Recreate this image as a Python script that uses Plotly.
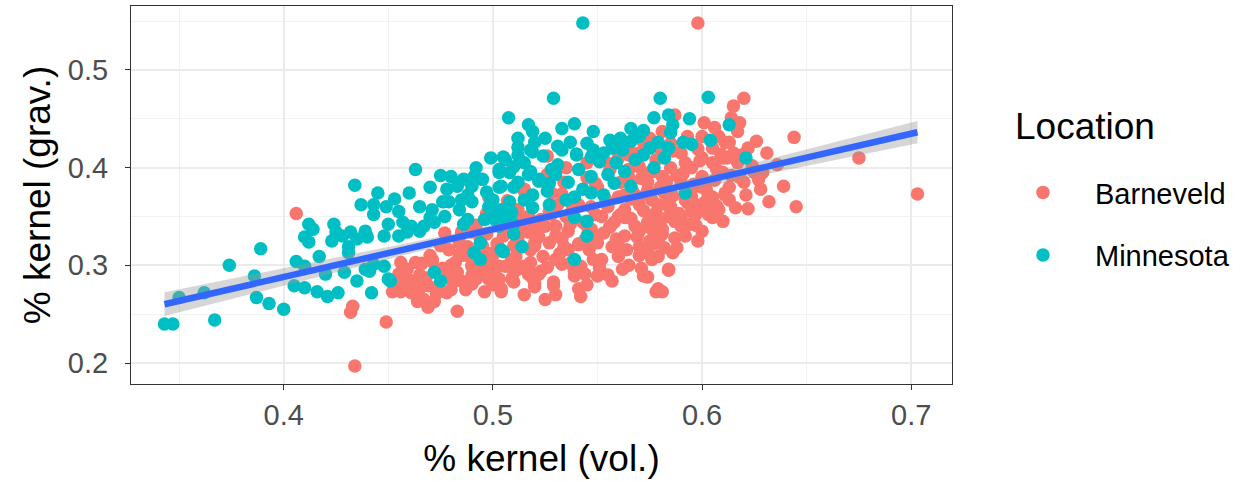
import numpy as np
import plotly.graph_objects as go

# ---------------- data ----------------
barneveld_x = [
    0.406, 0.432, 0.433, 0.449, 0.434,
    0.456, 0.463, 0.455, 0.452, 0.456, 0.465, 0.469, 0.464, 0.469, 0.472, 0.467, 0.471, 0.478, 0.483, 0.479,
    0.483, 0.484, 0.490, 0.496, 0.498, 0.504, 0.501, 0.510, 0.512, 0.520, 0.518, 0.490,
    0.515, 0.498, 0.512, 0.518, 0.484, 0.490, 0.488, 0.496, 0.499, 0.506, 0.510, 0.503, 0.493, 0.518, 0.520,
    0.517, 0.479, 0.471, 0.480, 0.474, 0.485, 0.461,
    0.526, 0.559, 0.572, 0.581, 0.565,
    0.598, 0.620, 0.615, 0.614, 0.601, 0.587, 0.644, 0.626, 0.631, 0.608, 0.613, 0.600, 0.615,
    0.645, 0.639, 0.632, 0.628, 0.622, 0.629, 0.618, 0.610, 0.605, 0.613, 0.613, 0.597, 0.581, 0.586, 0.584,
    0.581, 0.587, 0.607, 0.600, 0.601,
    0.675, 0.703,
    0.534, 0.528, 0.531, 0.515, 0.510, 0.517, 0.523, 0.530, 0.536, 0.515, 0.522, 0.527, 0.534, 0.518, 0.524,
    0.530, 0.536, 0.509, 0.503, 0.515, 0.522, 0.509, 0.529, 0.520, 0.539, 0.542, 0.548, 0.546, 0.550, 0.553,
    0.547, 0.552, 0.558, 0.563, 0.570, 0.576, 0.582, 0.560, 0.547, 0.563, 0.557, 0.560, 0.570, 0.574, 0.579,
    0.568, 0.574, 0.581, 0.578, 0.584, 0.572, 0.579, 0.552, 0.565, 0.570, 0.561, 0.574, 0.581, 0.560,
    0.574, 0.578, 0.584, 0.542, 0.541, 0.529, 0.504, 0.550, 0.539, 0.576, 0.517, 0.523,
    0.585, 0.590, 0.595, 0.590, 0.585, 0.595, 0.600, 0.605, 0.610, 0.590, 0.580, 0.575, 0.585, 0.600, 0.605,
    0.595, 0.605, 0.590, 0.600, 0.575, 0.570, 0.565, 0.570, 0.565, 0.580, 0.575, 0.560, 0.555, 0.550, 0.545,
    0.540, 0.545, 0.535, 0.530, 0.525, 0.520, 0.510, 0.505, 0.500, 0.495, 0.490, 0.485, 0.480, 0.475, 0.470,
    0.465, 0.460, 0.455, 0.480, 0.490, 0.500, 0.515, 0.525, 0.530, 0.545, 0.555, 0.565, 0.570, 0.560, 0.575,
    0.580, 0.570,
    0.617, 0.622, 0.610, 0.620, 0.545, 0.535, 0.598, 0.592, 0.617, 0.612, 0.605,
    0.588, 0.593, 0.597, 0.603, 0.608, 0.592, 0.583, 0.577, 0.566, 0.556, 0.544, 0.537, 0.527, 0.512, 0.507,
    0.497, 0.488, 0.477, 0.466, 0.459, 0.533, 0.541, 0.556, 0.563, 0.588, 0.596, 0.602, 0.611, 0.625, 0.636,
    0.502, 0.507, 0.511, 0.513, 0.519, 0.521, 0.526, 0.528, 0.532, 0.533, 0.537, 0.538, 0.541, 0.543, 0.544,
    0.548, 0.549, 0.551, 0.554, 0.556, 0.557, 0.559, 0.561, 0.562, 0.564, 0.566, 0.567, 0.569, 0.571, 0.572,
    0.574, 0.576, 0.577, 0.579, 0.580, 0.582, 0.583, 0.586, 0.587, 0.589, 0.591, 0.592, 0.594, 0.596, 0.597,
    0.599, 0.602, 0.603, 0.606, 0.607, 0.609, 0.611, 0.614, 0.616, 0.619, 0.621, 0.624, 0.627,
    0.458, 0.461, 0.466, 0.468, 0.473, 0.476, 0.481, 0.482, 0.487, 0.489, 0.492, 0.494, 0.497, 0.499, 0.492,
    0.497, 0.485,
    0.526, 0.533, 0.541, 0.549, 0.556, 0.563, 0.571, 0.578, 0.586, 0.593, 0.598, 0.606, 0.611, 0.618,
]
barneveld_y = [
    0.353, 0.252, 0.258, 0.242, 0.197,
    0.303, 0.303, 0.291, 0.273, 0.273, 0.276, 0.279, 0.263, 0.257, 0.263, 0.265, 0.304, 0.272, 0.253, 0.289,
    0.293, 0.311, 0.281, 0.273, 0.286, 0.273, 0.296, 0.283, 0.296, 0.278, 0.293, 0.299,
    0.378, 0.370, 0.357, 0.347, 0.323, 0.334, 0.319, 0.309, 0.299, 0.299, 0.293, 0.286, 0.293, 0.303, 0.323,
    0.334, 0.316, 0.306, 0.293, 0.279, 0.284, 0.272,
    0.412, 0.427, 0.426, 0.437, 0.413,
    0.548, 0.471, 0.463, 0.451, 0.446, 0.454, 0.431, 0.427, 0.415, 0.432, 0.426, 0.432, 0.415,
    0.360, 0.381, 0.365, 0.378, 0.358, 0.395, 0.390, 0.345, 0.349, 0.367, 0.380, 0.341, 0.332, 0.313, 0.295,
    0.273, 0.345, 0.398, 0.391, 0.364,
    0.410, 0.373,
    0.385, 0.374, 0.362, 0.376, 0.357, 0.350, 0.347, 0.340, 0.335, 0.335, 0.329, 0.323, 0.319, 0.316, 0.309,
    0.306, 0.316, 0.306, 0.299, 0.299, 0.291, 0.286, 0.283, 0.281, 0.289, 0.299, 0.306, 0.316, 0.323, 0.333,
    0.337, 0.350, 0.344, 0.357, 0.362, 0.367, 0.374, 0.370, 0.360, 0.330, 0.319, 0.309, 0.319, 0.313, 0.309,
    0.340, 0.344, 0.337, 0.354, 0.350, 0.289, 0.276, 0.306, 0.398, 0.401, 0.385, 0.385, 0.391, 0.410,
    0.288, 0.273, 0.296, 0.268, 0.276, 0.279, 0.276, 0.289, 0.294, 0.306, 0.291, 0.294,
    0.360, 0.350, 0.370, 0.385, 0.400, 0.400, 0.410, 0.420, 0.410, 0.415, 0.420, 0.430, 0.425, 0.380, 0.370,
    0.355, 0.355, 0.340, 0.335, 0.350, 0.370, 0.390, 0.415, 0.420, 0.380, 0.395, 0.350, 0.360, 0.380, 0.390,
    0.360, 0.340, 0.350, 0.330, 0.340, 0.320, 0.320, 0.330, 0.310, 0.320, 0.300, 0.310, 0.300, 0.320, 0.310,
    0.290, 0.285, 0.280, 0.275, 0.290, 0.280, 0.270, 0.265, 0.270, 0.280, 0.290, 0.300, 0.310, 0.320, 0.325,
    0.330, 0.335,
    0.405, 0.420, 0.395, 0.385, 0.405, 0.400, 0.325, 0.330, 0.437, 0.410, 0.405,
    0.392, 0.364, 0.352, 0.372, 0.357, 0.405, 0.362, 0.396, 0.368, 0.398, 0.326, 0.342, 0.355, 0.326, 0.366,
    0.332, 0.310, 0.333, 0.287, 0.296, 0.301, 0.322, 0.340, 0.349, 0.318, 0.380, 0.356, 0.372, 0.395, 0.403,
    0.322, 0.341, 0.309, 0.348, 0.287, 0.339, 0.298, 0.352, 0.312, 0.327, 0.302, 0.357, 0.321, 0.344, 0.291,
    0.331, 0.352, 0.297, 0.367, 0.339, 0.284, 0.327, 0.352, 0.296, 0.316, 0.348, 0.375, 0.329, 0.297, 0.356,
    0.377, 0.337, 0.322, 0.362, 0.344, 0.318, 0.386, 0.371, 0.328, 0.353, 0.394, 0.367, 0.342, 0.383, 0.362,
    0.407, 0.378, 0.352, 0.387, 0.361, 0.414, 0.374, 0.392, 0.359, 0.413, 0.372, 0.402, 0.388,
    0.296, 0.281, 0.302, 0.287, 0.271, 0.297, 0.283, 0.303, 0.275, 0.309, 0.286, 0.327, 0.296, 0.312, 0.341,
    0.353, 0.334,
    0.393, 0.373, 0.362, 0.384, 0.404, 0.372, 0.389, 0.408, 0.417, 0.432, 0.419, 0.441, 0.426, 0.446,
]

minnesota_x = [
    0.343, 0.347, 0.350, 0.362, 0.367, 0.374, 0.386, 0.389, 0.387, 0.393, 0.400,
    0.406, 0.405, 0.410, 0.416, 0.421, 0.426, 0.410, 0.417, 0.420, 0.412, 0.414, 0.410, 0.412, 0.424, 0.423,
    0.5075, 0.517, 0.519, 0.512, 0.520, 0.506, 0.503, 0.510, 0.518, 0.463, 0.434, 0.460, 0.445, 0.437, 0.443,
    0.449, 0.443, 0.425, 0.428, 0.432, 0.439, 0.431, 0.435, 0.440, 0.450, 0.448, 0.455, 0.457, 0.461, 0.459,
    0.465, 0.471, 0.476, 0.470, 0.472, 0.467, 0.477, 0.479, 0.480, 0.483, 0.486, 0.490, 0.495, 0.491, 0.485,
    0.490, 0.484, 0.488, 0.486, 0.499, 0.498, 0.501, 0.496, 0.504, 0.503, 0.510, 0.509, 0.515, 0.512, 0.503,
    0.518, 0.522, 0.519, 0.510, 0.514, 0.505, 0.494, 0.491, 0.494, 0.472, 0.475, 0.450, 0.442, 0.435, 0.439,
    0.429, 0.443, 0.448, 0.431, 0.441, 0.451,
    0.543, 0.529, 0.580, 0.539, 0.548, 0.566, 0.572, 0.577, 0.584, 0.531, 0.537, 0.556, 0.566, 0.579, 0.548,
    0.540, 0.553, 0.519,
    0.603, 0.594, 0.613, 0.586, 0.585, 0.604, 0.591, 0.595, 0.584, 0.621,
    0.505, 0.512, 0.531, 0.540, 0.547, 0.559, 0.541, 0.547, 0.555, 0.572, 0.577, 0.582, 0.503, 0.508, 0.504,
    0.510, 0.517, 0.522, 0.526, 0.530, 0.536, 0.539, 0.543, 0.547, 0.553, 0.566, 0.527, 0.535, 0.539, 0.545,
    0.545, 0.504, 0.539, 0.501, 0.506, 0.500,
    0.592, 0.562, 0.568, 0.575, 0.563, 0.558,
    0.515, 0.524, 0.528, 0.533, 0.545, 0.551, 0.557, 0.561, 0.570, 0.527, 0.519, 0.508, 0.497, 0.488, 0.478,
    0.465, 0.455, 0.453, 0.470, 0.475, 0.492, 0.499, 0.512, 0.525, 0.533,
]
minnesota_y = [
    0.240, 0.240, 0.267, 0.272, 0.244, 0.300, 0.289, 0.317, 0.267, 0.261, 0.255,
    0.304, 0.279, 0.277, 0.273, 0.268, 0.272, 0.299, 0.309, 0.291, 0.342, 0.337, 0.329, 0.324, 0.342, 0.325,
    0.451, 0.444, 0.437, 0.421, 0.426, 0.408, 0.398, 0.401, 0.418, 0.398, 0.382, 0.374, 0.374, 0.362, 0.362,
    0.360, 0.352, 0.334, 0.330, 0.334, 0.335, 0.319, 0.327, 0.329, 0.342, 0.330, 0.330, 0.344, 0.340, 0.334,
    0.335, 0.357, 0.365, 0.349, 0.344, 0.340, 0.350, 0.365, 0.391, 0.381, 0.388, 0.381, 0.388, 0.391, 0.367,
    0.365, 0.357, 0.347, 0.342, 0.367, 0.360, 0.354, 0.347, 0.357, 0.340, 0.342, 0.354, 0.367, 0.385, 0.380,
    0.396, 0.388, 0.359, 0.332, 0.319, 0.314, 0.323, 0.313, 0.306, 0.293, 0.284, 0.286, 0.272, 0.284, 0.296,
    0.293, 0.301, 0.299, 0.313, 0.294, 0.284,
    0.548, 0.471, 0.471, 0.445, 0.437, 0.440, 0.438, 0.451, 0.454, 0.422, 0.426, 0.428, 0.427, 0.426, 0.418,
    0.414, 0.415, 0.416,
    0.472, 0.450, 0.444, 0.444, 0.436, 0.428, 0.426, 0.424, 0.420, 0.410,
    0.411, 0.413, 0.403, 0.413, 0.411, 0.405, 0.398, 0.391, 0.393, 0.413, 0.400, 0.410, 0.395, 0.395, 0.381,
    0.380, 0.393, 0.386, 0.376, 0.393, 0.385, 0.370, 0.378, 0.374, 0.372, 0.381, 0.362, 0.367, 0.349, 0.345,
    0.330, 0.316, 0.306, 0.347, 0.347, 0.367,
    0.374, 0.418, 0.408, 0.420, 0.396, 0.384,
    0.405, 0.412, 0.398, 0.418, 0.425, 0.406, 0.420, 0.430, 0.432, 0.384, 0.372, 0.365, 0.375, 0.372, 0.378,
    0.360, 0.355, 0.368, 0.380, 0.392, 0.400, 0.410, 0.430, 0.430, 0.440,
]

locations = ["Barneveld", "Minnesota"]
colors = {"Barneveld": "#F8766D", "Minnesota": "#00BFC4"}

# ---------------- linear fit (geom_smooth(method = "lm")) ----------------
all_x = np.array(barneveld_x + minnesota_x)
all_y = np.array(barneveld_y + minnesota_y)
n = len(all_x)
slope, intercept = np.polyfit(all_x, all_y, 1)
resid = all_y - (slope * all_x + intercept)
s = np.sqrt(np.sum(resid ** 2) / (n - 2))
xbar = all_x.mean()
sxx = np.sum((all_x - xbar) ** 2)
fx = np.linspace(all_x.min(), all_x.max(), 80)
fy = slope * fx + intercept
se = s * np.sqrt(1.0 / n + (fx - xbar) ** 2 / sxx)
tcrit = 1.963

FONT = "Liberation Sans, Arial, Helvetica, sans-serif"

fig = go.Figure()
for loc, xs, ys in [("Barneveld", barneveld_x, barneveld_y), ("Minnesota", minnesota_x, minnesota_y)]:
    fig.add_trace(go.Scatter(
        x=xs, y=ys, mode="markers", name=loc, legendgroup=loc,
        marker=dict(color=colors[loc], size=13.5, line=dict(width=0)),
    ))

# confidence band + fitted line
fig.add_trace(go.Scatter(
    x=np.concatenate([fx, fx[::-1]]),
    y=np.concatenate([fy + tcrit * se, (fy - tcrit * se)[::-1]]),
    fill="toself", fillcolor="rgba(153,153,153,0.4)", line=dict(width=0),
    mode="lines", showlegend=False, hoverinfo="skip",
))
fig.add_trace(go.Scatter(
    x=fx, y=fy, mode="lines", line=dict(color="#3366FF", width=6.5),
    showlegend=False, hoverinfo="skip",
))

axis_common = dict(
    showline=True, mirror=True, linecolor="#333333", linewidth=1.2,
    ticks="outside", ticklen=5, tickwidth=1.2, tickcolor="#333333",
    tickfont=dict(family=FONT, size=29, color="#4D4D4D"),
    showgrid=True, gridcolor="#EBEBEB", gridwidth=1.6, zeroline=False,
)

fig.update_layout(
    width=1257, height=482,
    margin=dict(l=131, r=305, t=6, b=98),
    paper_bgcolor="white", plot_bgcolor="white",
    font=dict(family=FONT, color="black"),
    xaxis=dict(
        range=[0.327, 0.7195], tickvals=[0.4, 0.5, 0.6, 0.7],
        ticktext=["0.4", "0.5", "0.6", "0.7"],
        minor=dict(dtick=0.05, tick0=0.35, showgrid=True, gridcolor="#F2F2F2", gridwidth=0.9, ticks=""),
        title=dict(text="% kernel (vol.)", font=dict(family=FONT, size=37, color="black"), standoff=15),
        ticklabelstandoff=0,
        **axis_common,
    ),
    yaxis=dict(
        range=[0.1785, 0.5655], tickvals=[0.2, 0.3, 0.4, 0.5],
        ticktext=["0.2", "0.3", "0.4", "0.5"],
        minor=dict(dtick=0.05, tick0=0.15, showgrid=True, gridcolor="#F2F2F2", gridwidth=0.9, ticks=""),
        title=dict(text="% kernel (grav.)", font=dict(family=FONT, size=37, color="black"), standoff=5),
        ticklabelstandoff=11,
        **axis_common,
    ),
    legend=dict(
        x=1.0475, xanchor="left", y=0.574, yanchor="top",
        font=dict(family=FONT, size=29, color="black"),
        tracegroupgap=22, itemwidth=94, bgcolor="rgba(0,0,0,0)",
    ),
    annotations=[dict(
        text="Location", xref="paper", yref="paper", x=1.0743, y=0.680,
        xanchor="left", yanchor="middle", showarrow=False,
        font=dict(family=FONT, size=37, color="black"),
    )],
    showlegend=True,
)

fig.write_html("out.html")
